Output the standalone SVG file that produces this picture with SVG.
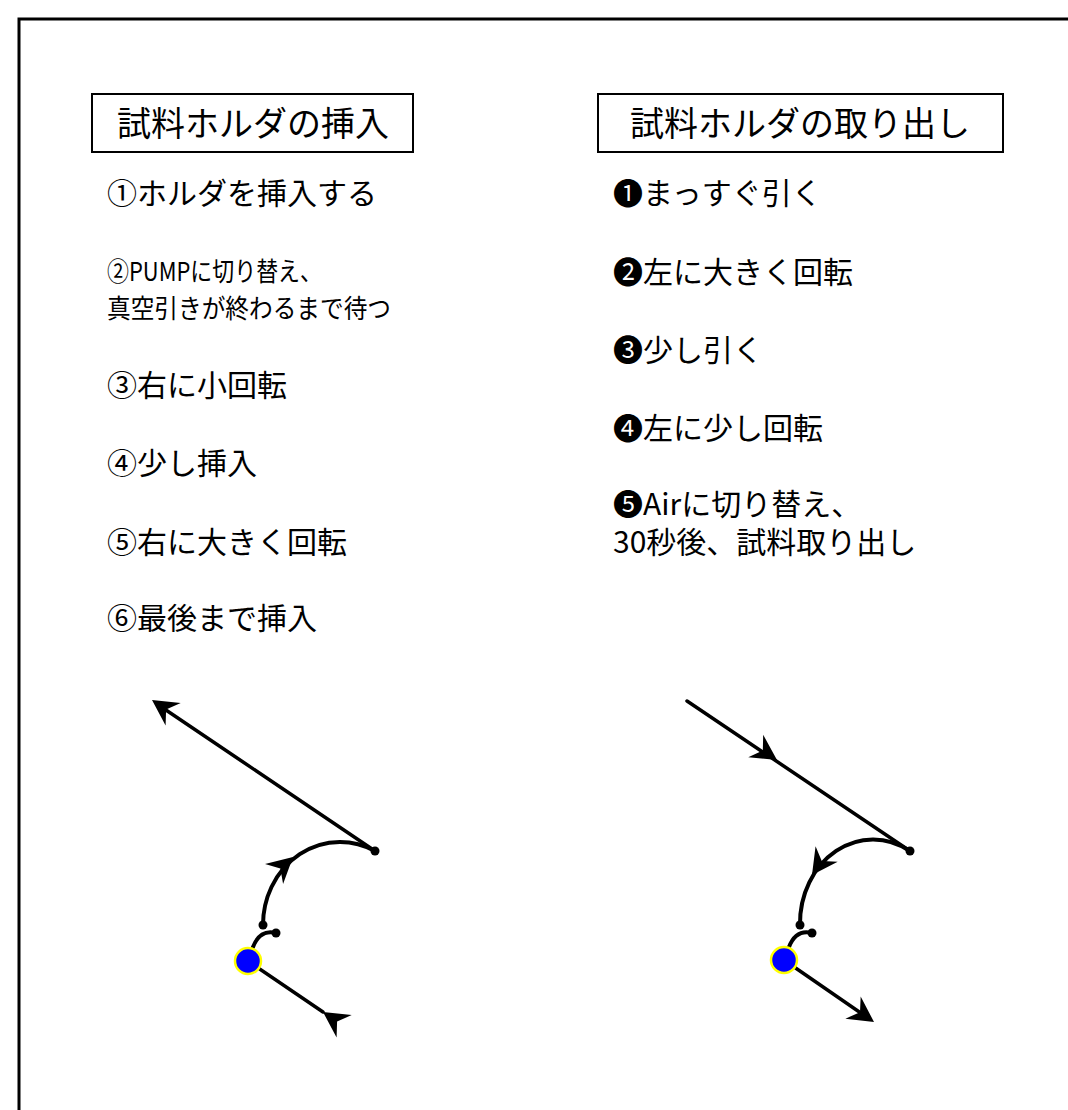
<svg xmlns="http://www.w3.org/2000/svg" xmlns:xlink="http://www.w3.org/1999/xlink" width="1068" height="1110" viewBox="0 0 1068 1110">
<style>
.t{font-family:"Noto Sans CJK JP","DejaVu Sans",sans-serif;fill:#000}
.title{font-size:34px;text-anchor:middle}
.item{font-size:30px}
.small{font-size:26px}
.ln{stroke:#000;stroke-width:3.5;fill:none;stroke-linecap:round}
.arc{stroke:#000;stroke-width:4;fill:none;stroke-linecap:round}
.box{fill:#fff;stroke:#000;stroke-width:2}
.dot{fill:#000}
.pin{fill:#0000ff;stroke:#ffff00;stroke-width:2.5}
</style>
<defs>
<path id="ah" d="M0,0 L-25.5,-13.5 L-17,0 L-25.5,13.5 Z" fill="#000"/>
</defs>
<rect x="0" y="0" width="1068" height="1110" fill="#fff"/>
<rect id="frame" x="19" y="19" width="1080" height="1120" fill="none" stroke="#000" stroke-width="3"/>

<g id="title-insert">
<rect class="box" x="92" y="94" width="321" height="58"/>
<text class="t title" x="253" y="136">試料ホルダの挿入</text>
</g>
<g id="title-remove">
<rect class="box" x="598" y="94" width="405" height="58"/>
<text class="t title" x="800" y="136">試料ホルダの取り出し</text>
</g>

<g id="steps-insert">
<text class="t item" x="107" y="204">①ホルダを挿入する</text>
<text class="t small" x="107" y="281" textLength="215" lengthAdjust="spacingAndGlyphs">②PUMPに切り替え、</text>
<text class="t small" x="107" y="318" textLength="284" lengthAdjust="spacingAndGlyphs">真空引きが終わるまで待つ</text>
<text class="t item" x="107" y="396">③右に小回転</text>
<text class="t item" x="107" y="474">④少し挿入</text>
<text class="t item" x="107" y="553">⑤右に大きく回転</text>
<text class="t item" x="107" y="629">⑥最後まで挿入</text>
</g>
<g id="steps-remove">
<text class="t item" x="613" y="204">❶まっすぐ引く</text>
<text class="t item" x="613" y="283">❷左に大きく回転</text>
<text class="t item" x="613" y="361">❸少し引く</text>
<text class="t item" x="613" y="439">❹左に少し回転</text>
<text class="t item" x="613" y="515">❺Airに切り替え、</text>
<text class="t item" x="613" y="553">30秒後、試料取り出し</text>
</g>

<g id="connectors">
<line class="ln" x1="375" y1="851" x2="160" y2="706"/>
<use xlink:href="#ah" transform="translate(152,700) rotate(-146)"/>
<path class="arc" d="M375,851 A77,83 0 0,0 263,925"/>
<use xlink:href="#ah" transform="translate(293,857) rotate(-42)"/>
<path class="arc" d="M276,933 Q260,929 253,947"/>
<line class="ln" x1="248" y1="961" x2="323" y2="1012"/>
<use xlink:href="#ah" transform="translate(323,1012) rotate(-146)"/>
<line class="ln" x1="687" y1="701" x2="910" y2="851"/>
<use xlink:href="#ah" transform="translate(777,760) rotate(33.5)"/>
<path class="arc" d="M910,851 A73,84 0 0,0 800,925"/>
<use xlink:href="#ah" transform="translate(812,875) rotate(125)"/>
<path class="arc" d="M812,933 Q796,929 789,947"/>
<line class="ln" x1="784" y1="960" x2="868" y2="1018"/>
<use xlink:href="#ah" transform="translate(874,1022) rotate(34.6)"/>
</g>

<g id="dots">
<circle class="dot" cx="375" cy="851" r="4.5"/>
<circle class="dot" cx="263" cy="925" r="4.5"/>
<circle class="dot" cx="276" cy="933" r="4.5"/>
<circle class="dot" cx="910" cy="851" r="4.5"/>
<circle class="dot" cx="800" cy="925" r="4.5"/>
<circle class="dot" cx="812" cy="933" r="4.5"/>
</g>
<g id="holder-insert"><circle class="pin" cx="248" cy="961" r="13"/></g>
<g id="holder-remove"><circle class="pin" cx="784" cy="960" r="13"/></g>
</svg>
